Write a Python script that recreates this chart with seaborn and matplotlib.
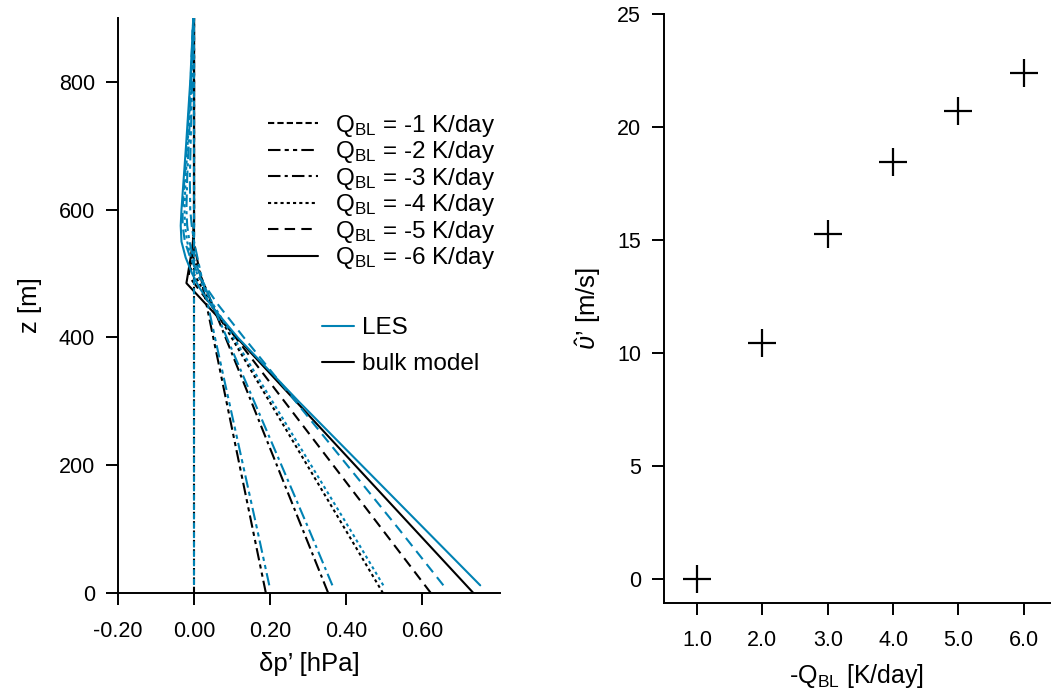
import numpy as np
import pandas as pd
import matplotlib
matplotlib.use("Agg")
import matplotlib.pyplot as plt
from matplotlib.lines import Line2D
import seaborn as sns

# cooling rates, K/day
q_bl = [-1, -2, -3, -4, -5, -6]

# LES profiles of delta p' [hPa] on common heights
les_z = [12, 100, 200, 300, 400, 450, 480, 500, 525, 550, 575, 600, 650, 700, 800, 900]
les_q1 = [0.0] * 16
les_q2 = [0.198, 0.166, 0.129, 0.092, 0.055, 0.037, 0.026, 0.018, 0.009, 0.0, -0.006, -0.010, -0.011, -0.009, -0.005, -0.001]
les_q3 = [0.364, 0.302, 0.230, 0.158, 0.086, 0.050, 0.028, 0.015, -0.002, -0.012, -0.018, -0.020, -0.018, -0.014, -0.007, -0.002]
les_q4 = [0.498, 0.410, 0.308, 0.206, 0.104, 0.052, 0.024, 0.008, -0.008, -0.018, -0.024, -0.025, -0.022, -0.017, -0.008, -0.002]
les_q5 = [0.656, 0.539, 0.403, 0.267, 0.131, 0.065, 0.030, 0.010, -0.010, -0.024, -0.030, -0.030, -0.025, -0.019, -0.009, -0.002]
les_q6 = [0.753, 0.607, 0.441, 0.275, 0.115, 0.045, 0.012, -0.005, -0.022, -0.033, -0.035, -0.033, -0.027, -0.021, -0.010, -0.002]

# bulk model: surface value, value at BL top, BL top height, height where it returns to 0
bulk_p0 = [0.0, 0.189, 0.353, 0.497, 0.623, 0.735]
bulk_pmin = [0.0, -0.002, -0.005, -0.009, -0.014, -0.020]
bulk_h = [500, 552, 530, 508, 496, 485]
bulk_top = [560, 590, 578, 568, 560, 557]

# right panel: wind speed vs cooling
neg_q = [1.0, 2.0, 3.0, 4.0, 5.0, 6.0]
v_hat = [0.0, 10.45, 15.27, 18.43, 20.7, 22.4]

les_cols = [les_q1, les_q2, les_q3, les_q4, les_q5, les_q6]
styles = [(0, (3, 1.5)), (0, (6, 2, 2, 2, 2, 2)), (0, (6, 2, 1.5, 2)),
          (0, (1.5, 1.5)), (0, (5, 3)), "-"]
blue = "#0082B4"

sns.set_style("ticks")
plt.rcParams["font.family"] = ["Liberation Sans", "DejaVu Sans"]
plt.rcParams["mathtext.fontset"] = "custom"
plt.rcParams["mathtext.rm"] = "Liberation Sans"
plt.rcParams["mathtext.it"] = "Liberation Sans:italic"
for k in ["text.color", "axes.labelcolor", "xtick.color", "ytick.color", "axes.edgecolor"]:
    plt.rcParams[k] = "black"

fig = plt.figure(figsize=(10.51, 6.93), dpi=100)
ax1 = fig.add_axes([118 / 1051, 1 - 593 / 693, 382 / 1051, 575 / 693])
ax2 = fig.add_axes([664 / 1051, 1 - 603 / 693, 386 / 1051, 589 / 693])

for i in range(len(q_bl)):
    z_b = [0, bulk_h[i], bulk_top[i], 900]
    p_b = [bulk_p0[i], bulk_pmin[i], 0.0, 0.0]
    sns.lineplot(x=p_b, y=z_b, orient="y", estimator=None, sort=False,
                 color="black", lw=1.5, linestyle=styles[i], ax=ax1)
for i in range(len(q_bl)):
    sns.lineplot(x=les_cols[i], y=les_z, orient="y", estimator=None, sort=False,
                 color=blue, lw=1.5, linestyle=styles[i], ax=ax1)

ax1.set_xlim(-0.2, 0.805)
ax1.set_ylim(0, 900)
ax1.set_xticks([-0.2, 0.0, 0.2, 0.4, 0.6])
ax1.set_xticklabels(["-0.20", "0.00", "0.20", "0.40", "0.60"])
ax1.set_yticks([0, 200, 400, 600, 800])
ax1.set_xlabel("δp’ [hPa]", fontsize=18.5, labelpad=7)
ax1.set_ylabel("z [m]", fontsize=18.5, labelpad=12)
ax1.tick_params(axis="both", labelsize=15.5, length=8.5, width=1.4, direction="out")
ax1.tick_params(axis="x", pad=12)
ax1.tick_params(axis="y", pad=8)
sns.despine(ax=ax1)
for s in ["left", "bottom"]:
    ax1.spines[s].set_linewidth(1.4)

h1 = [Line2D([], [], color="black", lw=1.5, linestyle=st) for st in styles]
lab1 = [f"Q$_{{\\rm BL}}$ = {q} K/day" for q in q_bl]
leg1 = ax1.legend(h1, lab1, loc="upper left", bbox_to_anchor=(0.393, 0.835),
                  frameon=False, fontsize=17.5, handlelength=2.05, handletextpad=0.7,
                  labelspacing=0.02, borderaxespad=0, borderpad=0)
ax1.add_artist(leg1)
h2 = [Line2D([], [], color=blue, lw=1.5), Line2D([], [], color="black", lw=1.5)]
ax1.legend(h2, ["LES", "bulk model"], loc="upper left", bbox_to_anchor=(0.534, 0.48),
           frameon=False, fontsize=17.5, handlelength=1.3, handletextpad=0.33,
           labelspacing=0.58, borderaxespad=0, borderpad=0)

sns.scatterplot(x=neg_q, y=v_hat, marker="+", s=420, color="black",
                linewidth=1.6, ax=ax2)
ax2.set_xlim(0.495, 6.4)
ax2.set_ylim(-1.06, 25)
ax2.set_xticks(neg_q)
ax2.set_xticklabels([f"{v:.1f}" for v in neg_q])
ax2.set_yticks([0, 5, 10, 15, 20, 25])
ax2.set_xlabel("-Q$_{\\rm BL}$ [K/day]", fontsize=18, labelpad=8)
ax2.set_ylabel("$\\hat{\\upsilon}$’ [m/s]", fontsize=18.5, labelpad=10)
ax2.tick_params(axis="both", labelsize=15.5, length=8.5, width=1.4, direction="out")
ax2.tick_params(axis="x", pad=11)
ax2.tick_params(axis="y", pad=8)
sns.despine(ax=ax2)
for s in ["left", "bottom"]:
    ax2.spines[s].set_linewidth(1.4)

fig.savefig("out.png", dpi=100)
